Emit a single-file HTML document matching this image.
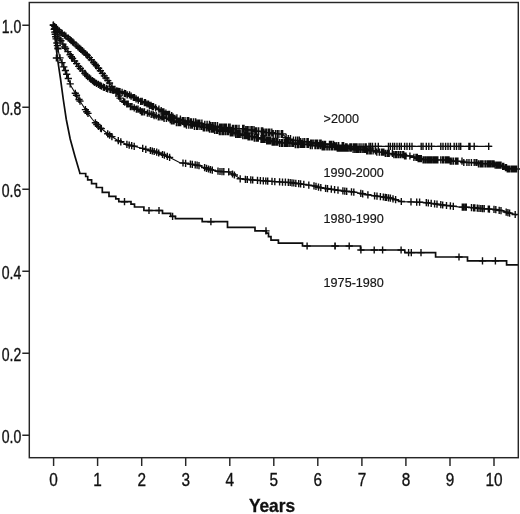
<!DOCTYPE html>
<html lang="en"><head><meta charset="utf-8"><title>Survival by period</title>
<style>html,body{margin:0;padding:0;background:#fff}svg{display:block}</style></head>
<body>
<svg width="520" height="514" viewBox="0 0 520 514">
<rect width="520" height="514" fill="#fff"/>
<path d="M53.6 25.3 L56.0 28.0 L60.0 31.7 L69.2 38.8 L78.9 47.6 L88.6 56.6 L98.5 68.2 L107.0 79.5 L114.5 90.0 L121.0 99.6 L129.6 105.6 L139.7 110.6 L147.0 112.9 L159.0 116.6 L164.2 118.0 L173.0 121.0 L181.5 123.0 L188.4 124.6 L207.8 127.6 L220.0 131.0 L230.0 132.0 L243.3 135.0 L266.7 140.0 L278.4 142.3 L290.0 143.2 L313.4 145.4 L327.0 147.0 L343.3 147.9 L366.7 150.2 L378.4 151.8 L390.0 153.7 L401.7 155.1 L411.7 156.0 L423.3 159.5 L435.0 160.0 L446.7 160.3 L458.4 161.4 L470.0 162.6 L481.7 163.5 L493.4 164.2 L500.4 165.4 L507.4 168.4 L516.7 168.9" fill="none" stroke="#0d0d0d" stroke-width="1.1"/>
<path d="M53.4 21.7v7.2M49.8 25.3h7.2M54.7 22.9v7.2M51.1 26.5h7.2M55.9 24.3v7.2M52.3 27.9h7.2M57.5 25.8v7.2M53.9 29.4h7.2M59.3 27.5v7.2M55.7 31.1h7.2M61.0 28.9v7.2M57.4 32.5h7.2M62.2 29.8v7.2M58.6 33.4h7.2M64.5 31.6v7.2M60.9 35.2h7.2M65.9 32.6v7.2M62.3 36.2h7.2M68.3 34.5v7.2M64.7 38.1h7.2M70.0 35.9v7.2M66.4 39.5h7.2M71.1 37.0v7.2M67.5 40.6h7.2M72.6 38.3v7.2M69.0 41.9h7.2M73.9 39.4v7.2M70.3 43.0h7.2M76.1 41.5v7.2M72.5 45.1h7.2M78.0 43.2v7.2M74.4 46.8h7.2M79.7 44.7v7.2M76.1 48.3h7.2M80.8 45.8v7.2M77.2 49.4h7.2M82.2 47.1v7.2M78.6 50.7h7.2M83.9 48.6v7.2M80.3 52.2h7.2M85.8 50.4v7.2M82.2 54.0h7.2M87.3 51.8v7.2M83.7 55.4h7.2M89.4 54.0v7.2M85.8 57.6h7.2M91.3 56.2v7.2M87.7 59.8h7.2M93.7 58.9v7.2M90.1 62.5h7.2M95.2 60.7v7.2M91.6 64.3h7.2M96.4 62.2v7.2M92.8 65.8h7.2M98.6 64.7v7.2M95.0 68.3h7.2M100.4 67.1v7.2M96.8 70.7h7.2M102.4 69.8v7.2M98.8 73.4h7.2M104.3 72.3v7.2M100.7 75.9h7.2M105.9 74.4v7.2M102.3 78.0h7.2M107.8 77.0v7.2M104.2 80.6h7.2M109.5 79.4v7.2M105.9 83.0h7.2M112.0 82.9v7.2M108.4 86.5h7.2M114.0 85.7v7.2M110.4 89.3h7.2M116.1 88.8v7.2M112.5 92.4h7.2M118.6 92.5v7.2M115.0 96.1h7.2M120.0 94.5v7.2M116.4 98.1h7.2M123.6 97.8v7.2M120.0 101.4h7.2M124.8 98.6v7.2M121.2 102.2h7.2M126.8 100.4v7.2M123.2 104.0h7.2M128.2 100.4v7.2M124.6 104.0h7.2M130.4 103.0v7.2M126.8 106.6h7.2M132.0 103.0v7.2M128.4 106.6h7.2M134.2 104.3v7.2M130.6 107.9h7.2M136.4 105.6v7.2M132.8 109.2h7.2M138.0 105.6v7.2M134.4 109.2h7.2M140.2 106.9v7.2M136.6 110.5h7.2M141.5 108.2v7.2M137.9 111.8h7.2M142.8 108.2v7.2M139.2 111.8h7.2M144.5 108.2v7.2M140.9 111.8h7.2M147.4 109.5v7.2M143.8 113.1h7.2M149.2 109.5v7.2M145.6 113.1h7.2M151.2 110.8v7.2M147.6 114.4h7.2M153.1 110.8v7.2M149.5 114.4h7.2M154.1 112.1v7.2M150.5 115.7h7.2M156.2 112.1v7.2M152.6 115.7h7.2M158.3 113.4v7.2M154.7 117.0h7.2M159.9 113.4v7.2M156.3 117.0h7.2M161.8 113.4v7.2M158.2 117.0h7.2M162.9 113.4v7.2M159.3 117.0h7.2M164.1 114.7v7.2M160.5 118.3h7.2M166.4 114.7v7.2M162.8 118.3h7.2M170.2 116.0v7.2M166.6 119.6h7.2M171.4 117.3v7.2M167.8 120.9h7.2M172.9 117.3v7.2M169.3 120.9h7.2M174.1 117.3v7.2M170.5 120.9h7.2M176.4 118.2v8.0M172.8 122.2h7.2M178.1 118.2v8.0M174.5 122.2h7.2M179.3 118.2v8.0M175.7 122.2h7.2M180.7 118.2v8.0M177.1 122.2h7.2M184.2 119.5v8.0M180.6 123.5h7.2M185.4 119.5v8.0M181.8 123.5h7.2M186.5 120.8v8.0M182.9 124.8h7.2M188.8 120.8v8.0M185.2 124.8h7.2M190.8 120.8v8.0M187.2 124.8h7.2M192.3 120.8v8.0M188.7 124.8h7.2M194.4 122.1v8.0M190.8 126.1h7.2M196.5 122.1v8.0M192.9 126.1h7.2M197.8 122.1v8.0M194.2 126.1h7.2M200.0 122.1v8.0M196.4 126.1h7.2M201.7 122.1v8.0M198.1 126.1h7.2M203.3 123.4v8.0M199.7 127.4h7.2M204.7 123.4v8.0M201.1 127.4h7.2M206.6 123.4v8.0M203.0 127.4h7.2M208.2 123.4v8.0M204.6 127.4h7.2M209.5 124.7v8.0M205.9 128.7h7.2M211.3 124.7v8.0M207.7 128.7h7.2M212.5 124.7v8.0M208.9 128.7h7.2M213.6 124.7v8.0M210.0 128.7h7.2M214.6 126.0v8.0M211.0 130.0h7.2M216.4 126.0v8.0M212.8 130.0h7.2M217.7 126.0v8.0M214.1 130.0h7.2M219.4 127.3v8.0M215.8 131.3h7.2M220.9 127.3v8.0M217.3 131.3h7.2M222.6 127.3v8.0M219.0 131.3h7.2M223.9 127.3v8.0M220.3 131.3h7.2M225.6 127.3v8.0M222.0 131.3h7.2M227.3 127.3v8.0M223.7 131.3h7.2M228.5 127.3v8.0M224.9 131.3h7.2M230.3 128.6v8.0M226.7 132.6h7.2M231.3 128.6v8.0M227.7 132.6h7.2M232.3 128.6v8.0M228.7 132.6h7.2M234.0 128.6v8.0M230.4 132.6h7.2M235.7 129.9v8.0M232.1 133.9h7.2M237.2 129.9v8.0M233.6 133.9h7.2M238.6 129.9v8.0M235.0 133.9h7.2M239.4 129.9v8.0M235.8 133.9h7.2M240.9 129.9v8.0M237.3 133.9h7.2M242.8 131.2v8.0M239.2 135.2h7.2M244.5 131.2v8.0M240.9 135.2h7.2M245.5 131.2v8.0M241.9 135.2h7.2M246.7 131.2v8.0M243.1 135.2h7.2M248.1 132.5v8.0M244.5 136.5h7.2M249.4 132.5v8.0M245.8 136.5h7.2M251.2 132.5v8.0M247.6 136.5h7.2M252.5 132.5v8.0M248.9 136.5h7.2M254.3 133.8v8.0M250.7 137.8h7.2M256.1 133.8v8.0M252.5 137.8h7.2M257.4 133.8v8.0M253.8 137.8h7.2M258.3 133.8v8.0M254.7 137.8h7.2M261.0 135.1v8.0M257.4 139.1h7.2M262.3 135.1v8.0M258.7 139.1h7.2M263.7 135.1v8.0M260.1 139.1h7.2M265.1 135.1v8.0M261.5 139.1h7.2M266.7 136.4v8.0M263.1 140.4h7.2M268.1 136.4v8.0M264.5 140.4h7.2M269.2 136.4v8.0M265.6 140.4h7.2M270.6 136.4v8.0M267.0 140.4h7.2M272.2 137.7v8.0M268.6 141.7h7.2M273.5 137.7v8.0M269.9 141.7h7.2M274.9 137.7v8.0M271.3 141.7h7.2M276.4 137.7v8.0M272.8 141.7h7.2M277.8 137.7v8.0M274.2 141.7h7.2M279.6 139.0v8.0M276.0 143.0h7.2M281.4 139.0v8.0M277.8 143.0h7.2M282.5 139.0v8.0M278.9 143.0h7.2M284.3 139.0v8.0M280.7 143.0h7.2M285.3 139.0v8.0M281.7 143.0h7.2M286.6 139.0v8.0M283.0 143.0h7.2M287.6 139.0v8.0M284.0 143.0h7.2M289.2 139.0v8.0M285.6 143.0h7.2M290.9 139.0v8.0M287.3 143.0h7.2M292.5 139.0v8.0M288.9 143.0h7.2M293.5 139.0v8.0M289.9 143.0h7.2M295.3 140.3v8.0M291.7 144.3h7.2M297.2 140.3v8.0M293.6 144.3h7.2M298.5 140.3v8.0M294.9 144.3h7.2M300.2 140.7v7.2M296.6 144.3h7.2M301.5 140.7v7.2M297.9 144.3h7.2M302.7 140.7v7.2M299.1 144.3h7.2M303.8 140.7v7.2M300.2 144.3h7.2M304.7 140.7v7.2M301.1 144.3h7.2M307.1 140.7v7.2M303.5 144.3h7.2M308.5 140.7v7.2M304.9 144.3h7.2M310.4 142.0v7.2M306.8 145.6h7.2M312.2 142.0v7.2M308.6 145.6h7.2M315.0 142.0v7.2M311.4 145.6h7.2M315.9 142.0v7.2M312.3 145.6h7.2M317.7 142.0v7.2M314.1 145.6h7.2M318.8 142.0v7.2M315.2 145.6h7.2M320.6 142.0v7.2M317.0 145.6h7.2M322.2 143.3v7.2M318.6 146.9h7.2M323.0 143.3v7.2M319.4 146.9h7.2M324.3 143.3v7.2M320.7 146.9h7.2M326.1 143.3v7.2M322.5 146.9h7.2M327.8 143.3v7.2M324.2 146.9h7.2M329.5 143.3v7.2M325.9 146.9h7.2M331.3 143.3v7.2M327.7 146.9h7.2M332.5 143.3v7.2M328.9 146.9h7.2M334.3 143.3v7.2M330.7 146.9h7.2M335.2 143.3v7.2M331.6 146.9h7.2M336.3 143.3v7.2M332.7 146.9h7.2M337.3 144.6v7.2M333.7 148.2h7.2M338.3 144.6v7.2M334.7 148.2h7.2M339.4 144.6v7.2M335.8 148.2h7.2M340.6 144.6v7.2M337.0 148.2h7.2M341.6 144.6v7.2M338.0 148.2h7.2M342.4 144.6v7.2M338.8 148.2h7.2M343.2 144.6v7.2M339.6 148.2h7.2M344.6 144.6v7.2M341.0 148.2h7.2M346.0 144.6v7.2M342.4 148.2h7.2M346.9 144.6v7.2M343.3 148.2h7.2M348.2 144.6v7.2M344.6 148.2h7.2M349.9 144.6v7.2M346.3 148.2h7.2M351.2 144.6v7.2M347.6 148.2h7.2M353.1 145.9v7.2M349.5 149.5h7.2M354.8 145.9v7.2M351.2 149.5h7.2M356.3 145.9v7.2M352.7 149.5h7.2M357.5 145.9v7.2M353.9 149.5h7.2M358.4 145.9v7.2M354.8 149.5h7.2M360.0 145.9v7.2M356.4 149.5h7.2M361.0 145.9v7.2M357.4 149.5h7.2M362.8 145.9v7.2M359.2 149.5h7.2M364.3 145.9v7.2M360.7 149.5h7.2M365.4 145.9v7.2M361.8 149.5h7.2M366.7 147.2v7.2M363.1 150.8h7.2M368.0 147.2v7.2M364.4 150.8h7.2M369.8 147.2v7.2M366.2 150.8h7.2M371.2 147.2v7.2M367.6 150.8h7.2M373.1 147.2v7.2M369.5 150.8h7.2M375.5 147.2v7.2M371.9 150.8h7.2M376.8 148.5v7.2M373.2 152.1h7.2M379.3 148.5v7.2M375.7 152.1h7.2M381.4 148.5v7.2M377.8 152.1h7.2M382.4 148.5v7.2M378.8 152.1h7.2M383.8 148.5v7.2M380.2 152.1h7.2M385.3 149.8v7.2M381.7 153.4h7.2M387.1 149.8v7.2M383.5 153.4h7.2M388.2 149.8v7.2M384.6 153.4h7.2M389.2 149.8v7.2M385.6 153.4h7.2M392.4 149.8v7.2M388.8 153.4h7.2M393.9 151.1v7.2M390.3 154.7h7.2M395.6 151.1v7.2M392.0 154.7h7.2M397.0 151.1v7.2M393.4 154.7h7.2M398.7 151.1v7.2M395.1 154.7h7.2M400.4 151.1v7.2M396.8 154.7h7.2M402.2 151.1v7.2M398.6 154.7h7.2M403.7 151.1v7.2M400.1 154.7h7.2M404.6 152.4v7.2M401.0 156.0h7.2M405.8 152.4v7.2M402.2 156.0h7.2M406.0 152.4v7.2M402.4 156.0h7.2M409.9 152.4v7.2M406.3 156.0h7.2M413.9 153.7v7.2M410.3 157.3h7.2M416.0 153.7v7.2M412.4 157.3h7.2M416.0 153.7v7.2M412.4 157.3h7.2M417.3 153.7v7.2M413.7 157.3h7.2M418.2 155.0v7.2M414.6 158.6h7.2M419.2 155.0v7.2M415.6 158.6h7.2M420.3 155.0v7.2M416.7 158.6h7.2M421.3 155.0v7.2M417.7 158.6h7.2M423.1 156.3v7.2M419.5 159.9h7.2M424.2 156.3v7.2M420.6 159.9h7.2M425.7 156.3v7.2M422.1 159.9h7.2M427.2 156.3v7.2M423.6 159.9h7.2M428.0 156.3v7.2M424.4 159.9h7.2M429.1 156.3v7.2M425.5 159.9h7.2M430.2 156.3v7.2M426.6 159.9h7.2M431.0 156.3v7.2M427.4 159.9h7.2M432.0 156.3v7.2M428.4 159.9h7.2M433.5 156.3v7.2M429.9 159.9h7.2M434.6 156.3v7.2M431.0 159.9h7.2M435.9 156.3v7.2M432.3 159.9h7.2M436.8 156.3v7.2M433.2 159.9h7.2M437.8 156.3v7.2M434.2 159.9h7.2M440.8 156.3v7.2M437.2 159.9h7.2M442.6 156.3v7.2M439.0 159.9h7.2M443.6 156.3v7.2M440.0 159.9h7.2M445.4 156.3v7.2M441.8 159.9h7.2M446.8 156.3v7.2M443.2 159.9h7.2M448.1 156.3v7.2M444.5 159.9h7.2M449.0 156.3v7.2M445.4 159.9h7.2M450.3 157.6v7.2M446.7 161.2h7.2M451.8 157.6v7.2M448.2 161.2h7.2M453.5 157.6v7.2M449.9 161.2h7.2M455.6 157.6v7.2M452.0 161.2h7.2M456.7 157.6v7.2M453.1 161.2h7.2M457.9 157.6v7.2M454.3 161.2h7.2M462.0 157.6v7.2M458.4 161.2h7.2M463.8 158.9v7.2M460.2 162.5h7.2M466.9 158.9v7.2M463.3 162.5h7.2M469.0 158.9v7.2M465.4 162.5h7.2M471.4 158.9v7.2M467.8 162.5h7.2M474.2 158.9v7.2M470.6 162.5h7.2M476.0 158.9v7.2M472.4 162.5h7.2M476.8 158.9v7.2M473.2 162.5h7.2M478.5 160.2v7.2M474.9 163.8h7.2M480.2 160.2v7.2M476.6 163.8h7.2M481.3 160.2v7.2M477.7 163.8h7.2M482.3 160.2v7.2M478.7 163.8h7.2M484.0 160.2v7.2M480.4 163.8h7.2M485.7 160.2v7.2M482.1 163.8h7.2M487.4 160.2v7.2M483.8 163.8h7.2M488.7 160.2v7.2M485.1 163.8h7.2M489.6 160.2v7.2M486.0 163.8h7.2M490.8 160.2v7.2M487.2 163.8h7.2M492.3 160.2v7.2M488.7 163.8h7.2M493.1 160.2v7.2M489.5 163.8h7.2M494.0 160.2v7.2M490.4 163.8h7.2M495.2 161.5v7.2M491.6 165.1h7.2M496.7 161.5v7.2M493.1 165.1h7.2M497.8 161.5v7.2M494.2 165.1h7.2M498.8 161.5v7.2M495.2 165.1h7.2M500.0 161.5v7.2M496.4 165.1h7.2M501.0 161.5v7.2M497.4 165.1h7.2M502.7 162.8v7.2M499.1 166.4h7.2M503.7 162.8v7.2M500.1 166.4h7.2M505.5 164.1v7.2M501.9 167.7h7.2M506.5 164.1v7.2M502.9 167.7h7.2M507.3 165.4v7.2M503.7 169.0h7.2M508.2 165.4v7.2M504.6 169.0h7.2M509.3 165.4v7.2M505.7 169.0h7.2M511.0 165.4v7.2M507.4 169.0h7.2M512.2 165.4v7.2M508.6 169.0h7.2M513.5 165.4v7.2M509.9 169.0h7.2M514.6 165.4v7.2M511.0 169.0h7.2M515.7 165.4v7.2M512.1 169.0h7.2M516.6 165.4v7.2M513.0 169.0h7.2" fill="none" stroke="#0d0d0d" stroke-width="1.4"/>
<path d="M53.4 25.0 L55.0 29.5 L59.0 37.5 L64.5 46.8 L72.0 57.5 L79.5 67.5 L87.5 76.5 L94.0 81.8 L101.0 86.0 L107.7 89.0 L114.5 90.5 L121.3 92.0 L129.6 95.4 L139.7 100.3 L148.0 104.2 L166.0 113.0 L173.0 117.0 L181.5 120.3 L188.4 121.3 L207.8 125.0 L220.0 127.2 L243.3 129.0 L266.7 132.5 L283.0 134.5 L287.7 139.0 L300.0 141.0 L313.4 142.8 L327.0 144.2 L340.0 145.6 L346.0 146.4 L491.8 146.4" fill="none" stroke="#0d0d0d" stroke-width="1.1"/>
<path d="M53.4 21.4v7.2M49.8 25.0h7.2M54.7 25.1v7.2M51.1 28.7h7.2M56.1 28.0v7.2M52.5 31.6h7.2M57.7 31.3v7.2M54.1 34.9h7.2M59.9 35.4v7.2M56.3 39.0h7.2M60.9 37.1v7.2M57.3 40.7h7.2M62.9 40.5v7.2M59.3 44.1h7.2M64.6 43.3v7.2M61.0 46.9h7.2M65.6 44.8v7.2M62.0 48.4h7.2M67.9 48.0v7.2M64.3 51.6h7.2M70.1 51.1v7.2M66.5 54.7h7.2M71.4 53.1v7.2M67.8 56.7h7.2M72.6 54.8v7.2M69.0 58.4h7.2M74.6 57.4v7.2M71.0 61.0h7.2M76.6 60.0v7.2M73.0 63.6h7.2M78.7 62.8v7.2M75.1 66.4h7.2M80.4 64.9v7.2M76.8 68.5h7.2M82.5 67.3v7.2M78.9 70.9h7.2M84.8 69.8v7.2M81.2 73.4h7.2M86.2 71.4v7.2M82.6 75.0h7.2M87.6 73.0v7.2M84.0 76.6h7.2M89.5 74.6v7.2M85.9 78.2h7.2M90.7 75.5v7.2M87.1 79.1h7.2M92.5 77.0v7.2M88.9 80.6h7.2M93.8 78.0v7.2M90.2 81.6h7.2M94.8 78.7v7.2M91.2 82.3h7.2M96.5 79.7v7.2M92.9 83.3h7.2M98.4 80.8v7.2M94.8 84.4h7.2M100.0 81.8v7.2M96.4 85.4h7.2M101.4 82.6v7.2M97.8 86.2h7.2M103.4 83.5v7.2M99.8 87.1h7.2M104.4 83.9v7.2M100.8 87.5h7.2M106.4 84.8v7.2M102.8 88.4h7.2M107.7 85.4v7.2M104.1 89.0h7.2M110.0 85.9v7.2M106.4 89.5h7.2M111.1 86.1v7.2M107.5 89.7h7.2M112.7 86.5v7.2M109.1 90.1h7.2M114.0 86.8v7.2M110.4 90.4h7.2M116.0 87.2v7.2M112.4 90.8h7.2M117.3 87.5v7.2M113.7 91.1h7.2M118.7 87.8v7.2M115.1 91.4h7.2M120.0 88.1v7.2M116.4 91.7h7.2M122.1 88.7v7.2M118.5 92.3h7.2M124.4 89.7v7.2M120.8 93.3h7.2M125.6 90.0v7.2M122.0 93.6h7.2M127.2 91.3v7.2M123.6 94.9h7.2M129.5 91.3v7.2M125.9 94.9h7.2M131.1 92.6v7.2M127.5 96.2h7.2M133.4 93.9v7.2M129.8 97.5h7.2M134.5 93.9v7.2M130.9 97.5h7.2M136.1 95.2v7.2M132.5 98.8h7.2M138.3 96.5v7.2M134.7 100.1h7.2M140.7 97.8v7.2M137.1 101.4h7.2M142.2 97.8v7.2M138.6 101.4h7.2M144.4 99.1v7.2M140.8 102.7h7.2M145.5 99.1v7.2M141.9 102.7h7.2M147.0 100.4v7.2M143.4 104.0h7.2M148.5 100.4v7.2M144.9 104.0h7.2M149.5 101.7v7.2M145.9 105.3h7.2M151.0 101.7v7.2M147.4 105.3h7.2M152.2 103.0v7.2M148.6 106.6h7.2M153.5 103.0v7.2M149.9 106.6h7.2M155.7 104.3v7.2M152.1 107.9h7.2M158.9 105.6v7.2M155.3 109.2h7.2M161.2 106.9v7.2M157.6 110.5h7.2M162.7 108.2v7.2M159.1 111.8h7.2M163.8 108.2v7.2M160.2 111.8h7.2M165.9 109.5v7.2M162.3 113.1h7.2M168.1 110.8v7.2M164.5 114.4h7.2M169.5 110.8v7.2M165.9 114.4h7.2M171.7 112.1v7.2M168.1 115.7h7.2M173.1 113.4v7.2M169.5 117.0h7.2M174.9 114.7v7.2M171.3 118.3h7.2M176.9 114.3v8.0M173.3 118.3h7.2M180.4 115.6v8.0M176.8 119.6h7.2M182.3 116.9v8.0M178.7 120.9h7.2M183.3 116.9v8.0M179.7 120.9h7.2M185.0 116.9v8.0M181.4 120.9h7.2M187.3 116.9v8.0M183.7 120.9h7.2M188.7 116.9v8.0M185.1 120.9h7.2M190.4 118.2v8.0M186.8 122.2h7.2M191.6 118.2v8.0M188.0 122.2h7.2M193.7 118.2v8.0M190.1 122.2h7.2M195.7 118.2v8.0M192.1 122.2h7.2M197.2 119.5v8.0M193.6 123.5h7.2M198.7 119.5v8.0M195.1 123.5h7.2M199.8 119.5v8.0M196.2 123.5h7.2M201.9 119.5v8.0M198.3 123.5h7.2M204.8 120.8v8.0M201.2 124.8h7.2M207.1 120.8v8.0M203.5 124.8h7.2M209.5 120.8v8.0M205.9 124.8h7.2M210.6 122.1v8.0M207.0 126.1h7.2M212.3 122.1v8.0M208.7 126.1h7.2M213.9 122.1v8.0M210.3 126.1h7.2M215.5 122.1v8.0M211.9 126.1h7.2M217.5 122.1v8.0M213.9 126.1h7.2M219.6 123.4v8.0M216.0 127.4h7.2M220.8 123.4v8.0M217.2 127.4h7.2M222.2 123.4v8.0M218.6 127.4h7.2M223.8 123.4v8.0M220.2 127.4h7.2M225.0 123.4v8.0M221.4 127.4h7.2M226.4 123.4v8.0M222.8 127.4h7.2M228.6 123.4v8.0M225.0 127.4h7.2M230.1 123.4v8.0M226.5 127.4h7.2M232.5 124.7v8.0M228.9 128.7h7.2M233.8 124.7v8.0M230.2 128.7h7.2M235.7 124.7v8.0M232.1 128.7h7.2M236.9 124.7v8.0M233.3 128.7h7.2M239.0 124.7v8.0M235.4 128.7h7.2M242.7 124.7v8.0M239.1 128.7h7.2M244.0 124.7v8.0M240.4 128.7h7.2M245.8 126.0v8.0M242.2 130.0h7.2M247.3 126.0v8.0M243.7 130.0h7.2M248.9 126.0v8.0M245.3 130.0h7.2M251.0 126.0v8.0M247.4 130.0h7.2M252.2 126.0v8.0M248.6 130.0h7.2M254.0 126.0v8.0M250.4 130.0h7.2M255.5 127.3v8.0M251.9 131.3h7.2M256.8 127.3v8.0M253.2 131.3h7.2M258.7 127.3v8.0M255.1 131.3h7.2M261.4 127.3v8.0M257.8 131.3h7.2M262.7 127.3v8.0M259.1 131.3h7.2M264.0 128.6v8.0M260.4 132.6h7.2M265.8 128.6v8.0M262.2 132.6h7.2M266.9 128.6v8.0M263.3 132.6h7.2M268.7 128.6v8.0M265.1 132.6h7.2M269.8 128.6v8.0M266.2 132.6h7.2M271.8 128.6v8.0M268.2 132.6h7.2M273.2 129.9v8.0M269.6 133.9h7.2M275.5 129.9v8.0M271.9 133.9h7.2M277.3 129.9v8.0M273.7 133.9h7.2M278.9 129.9v8.0M275.3 133.9h7.2M281.3 129.9v8.0M277.7 133.9h7.2M282.6 129.9v8.0M279.0 133.9h7.2M286.1 133.8v8.0M282.5 137.8h7.2M288.3 135.1v8.0M284.7 139.1h7.2M290.5 135.1v8.0M286.9 139.1h7.2M293.5 136.4v8.0M289.9 140.4h7.2M295.7 136.4v8.0M292.1 140.4h7.2M297.6 136.4v8.0M294.0 140.4h7.2M299.3 136.4v8.0M295.7 140.4h7.2M300.7 138.1v7.2M297.1 141.7h7.2M303.0 138.1v7.2M299.4 141.7h7.2M304.7 138.1v7.2M301.1 141.7h7.2M307.0 138.1v7.2M303.4 141.7h7.2M308.2 138.1v7.2M304.6 141.7h7.2M310.6 139.4v7.2M307.0 143.0h7.2M311.7 139.4v7.2M308.1 143.0h7.2M313.2 139.4v7.2M309.6 143.0h7.2M315.1 139.4v7.2M311.5 143.0h7.2M316.3 139.4v7.2M312.7 143.0h7.2M317.6 139.4v7.2M314.0 143.0h7.2M319.8 139.4v7.2M316.2 143.0h7.2M321.1 139.4v7.2M317.5 143.0h7.2M322.6 140.7v7.2M319.0 144.3h7.2M324.2 140.7v7.2M320.6 144.3h7.2M325.5 140.7v7.2M321.9 144.3h7.2M329.5 140.7v7.2M325.9 144.3h7.2M330.6 140.7v7.2M327.0 144.3h7.2M331.8 140.7v7.2M328.2 144.3h7.2M333.6 140.7v7.2M330.0 144.3h7.2M335.0 142.0v7.2M331.4 145.6h7.2M336.8 142.0v7.2M333.2 145.6h7.2M338.7 142.0v7.2M335.1 145.6h7.2M342.2 142.0v7.2M338.6 145.6h7.2M343.6 142.0v7.2M340.0 145.6h7.2M345.6 143.3v7.2M342.0 146.9h7.2M346.0 143.3v7.2M342.4 146.9h7.2M347.0 143.3v7.2M343.4 146.9h7.2M349.9 143.3v7.2M346.3 146.9h7.2M350.8 143.3v7.2M347.2 146.9h7.2M351.8 143.3v7.2M348.2 146.9h7.2M353.7 143.3v7.2M350.1 146.9h7.2M354.6 143.3v7.2M351.0 146.9h7.2M356.0 143.3v7.2M352.4 146.9h7.2M357.0 143.3v7.2M353.4 146.9h7.2M359.1 143.3v7.2M355.5 146.9h7.2M361.0 143.3v7.2M357.4 146.9h7.2M363.1 143.3v7.2M359.5 146.9h7.2M365.1 143.3v7.2M361.5 146.9h7.2M366.2 143.3v7.2M362.6 146.9h7.2M369.0 142.8v7.2M365.4 146.4h7.2M370.6 142.8v7.2M367.0 146.4h7.2M372.5 142.8v7.2M368.9 146.4h7.2M375.4 142.8v7.2M371.8 146.4h7.2M378.3 142.8v7.2M374.7 146.4h7.2M388.5 142.8v7.2M384.9 146.4h7.2M390.4 142.8v7.2M386.8 146.4h7.2M392.7 142.8v7.2M389.1 146.4h7.2M394.6 142.8v7.2M391.0 146.4h7.2M397.0 142.8v7.2M393.4 146.4h7.2M399.4 142.8v7.2M395.8 146.4h7.2M401.3 142.8v7.2M397.7 146.4h7.2M404.6 142.8v7.2M401.0 146.4h7.2M407.0 142.8v7.2M403.4 146.4h7.2M409.6 142.8v7.2M406.0 146.4h7.2M412.0 142.8v7.2M408.4 146.4h7.2M421.2 142.8v7.2M417.6 146.4h7.2M423.0 142.8v7.2M419.4 146.4h7.2M426.3 142.8v7.2M422.7 146.4h7.2M428.8 142.8v7.2M425.2 146.4h7.2M431.5 142.8v7.2M427.9 146.4h7.2M440.8 142.8v7.2M437.2 146.4h7.2M443.0 142.8v7.2M439.4 146.4h7.2M445.6 142.8v7.2M442.0 146.4h7.2M448.0 142.8v7.2M444.4 146.4h7.2M450.4 142.8v7.2M446.8 146.4h7.2M454.2 142.8v7.2M450.6 146.4h7.2M456.5 142.8v7.2M452.9 146.4h7.2M459.0 142.8v7.2M455.4 146.4h7.2M460.7 142.8v7.2M457.1 146.4h7.2M468.9 142.8v7.2M465.3 146.4h7.2M470.0 142.8v7.2M466.4 146.4h7.2M474.2 142.8v7.2M470.6 146.4h7.2M488.7 142.8v7.2M485.1 146.4h7.2" fill="none" stroke="#0d0d0d" stroke-width="1.4"/>
<path d="M53.4 25.0 L54.5 31.0 L56.5 41.0 L59.5 56.7 L65.3 70.3 L71.0 86.0 L79.0 99.5 L83.8 107.0 L86.7 111.7 L92.5 119.5 L98.4 126.3 L108.0 134.0 L117.8 140.5 L127.5 144.7 L140.0 147.7 L156.7 152.2 L168.4 156.8 L180.0 162.7 L184.7 163.2 L198.7 165.5 L210.4 169.7 L219.7 171.5 L228.7 171.9 L234.4 175.0 L240.2 178.8 L250.8 179.8 L262.0 180.7 L275.0 181.6 L290.0 182.5 L313.4 185.7 L320.0 187.6 L343.3 191.0 L355.0 192.2 L366.7 194.6 L390.0 198.0 L401.7 201.6 L423.3 202.3 L435.0 203.9 L446.7 205.5 L458.4 206.9 L470.0 207.4 L481.7 208.6 L493.4 209.3 L502.7 210.9 L509.7 213.2 L516.7 214.9" fill="none" stroke="#0d0d0d" stroke-width="1.1"/>
<path d="M54.2 25.8v7.2M50.6 29.4h7.2M54.7 28.5v7.2M51.1 32.1h7.2M55.2 30.7v7.2M51.6 34.3h7.2M55.7 33.2v7.2M52.1 36.8h7.2M56.1 35.3v7.2M52.5 38.9h7.2M56.9 39.4v7.2M53.3 43.0h7.2M57.4 42.0v7.2M53.8 45.6h7.2M57.9 44.7v7.2M54.3 48.3h7.2M58.0 45.2v7.2M54.4 48.9h7.2M60.0 54.3v7.2M56.4 57.9h7.2M62.0 59.0v7.2M58.4 62.6h7.2M63.8 63.3v7.2M60.2 66.9h7.2M65.4 66.9v7.2M61.8 70.5h7.2M66.7 70.6v7.2M63.1 74.2h7.2M68.3 74.9v7.2M64.7 78.5h7.2M70.2 80.3v7.2M66.6 83.9h7.2M75.3 89.7v7.2M71.7 93.3h7.2M76.5 91.7v7.2M72.9 95.3h7.2M79.0 95.9v7.2M75.4 99.5h7.2M80.0 97.5v7.2M76.4 101.1h7.2M85.4 106.0v7.2M81.8 109.6h7.2M86.7 108.1v7.2M83.1 111.7h7.2M88.0 109.8v7.2M84.4 113.4h7.2M95.4 119.2v7.2M91.8 122.8h7.2M96.8 120.9v7.2M93.2 124.5h7.2M98.5 122.8v7.2M94.9 126.4h7.2M100.6 124.5v7.2M97.0 128.1h7.2M101.3 125.0v7.2M97.7 128.6h7.2M107.7 130.2v7.2M104.1 133.8h7.2M109.6 131.5v7.2M106.0 135.1h7.2M111.9 133.0v7.2M108.3 136.6h7.2M118.3 137.1v7.2M114.7 140.7h7.2M120.8 138.2v7.2M117.2 141.8h7.2M126.9 140.8v7.2M123.3 144.4h7.2M129.2 141.5v7.2M125.6 145.1h7.2M131.7 142.1v7.2M128.1 145.7h7.2M134.2 142.7v7.2M130.6 146.3h7.2M142.7 144.8v7.2M139.1 148.4h7.2M145.8 145.7v7.2M142.2 149.3h7.2M150.4 146.9v7.2M146.8 150.5h7.2M152.3 147.4v7.2M148.7 151.0h7.2M154.2 147.9v7.2M150.6 151.5h7.2M156.7 148.6v7.2M153.1 152.2h7.2M158.7 149.4v7.2M155.1 153.0h7.2M162.5 150.9v7.2M158.9 154.5h7.2M164.4 151.6v7.2M160.8 155.2h7.2M167.3 152.8v7.2M163.7 156.4h7.2M169.6 153.8v7.2M166.0 157.4h7.2M183.0 159.4v7.2M179.4 163.0h7.2M185.6 159.7v7.2M182.0 163.3h7.2M190.4 160.5v7.2M186.8 164.1h7.2M192.3 160.8v7.2M188.7 164.4h7.2M195.2 161.3v7.2M191.6 164.9h7.2M197.1 161.6v7.2M193.5 165.2h7.2M199.0 162.0v7.2M195.4 165.6h7.2M204.6 164.0v7.2M201.0 167.6h7.2M206.5 164.7v7.2M202.9 168.3h7.2M208.5 165.4v7.2M204.9 169.0h7.2M210.4 166.1v7.2M206.8 169.7h7.2M212.3 166.5v7.2M208.7 170.1h7.2M218.0 167.6v7.2M214.4 171.2h7.2M220.0 167.9v7.2M216.4 171.5h7.2M222.0 168.0v7.2M218.4 171.6h7.2M223.8 168.1v7.2M220.2 171.7h7.2M228.7 168.3v7.2M225.1 171.9h7.2M232.5 170.4v7.2M228.9 174.0h7.2M234.4 171.4v7.2M230.8 175.0h7.2M240.2 175.2v7.2M236.6 178.8h7.2M245.4 175.7v7.2M241.8 179.3h7.2M247.3 175.9v7.2M243.7 179.5h7.2M250.8 176.2v7.2M247.2 179.8h7.2M252.7 176.4v7.2M249.1 180.0h7.2M257.5 176.7v7.2M253.9 180.3h7.2M260.4 177.0v7.2M256.8 180.6h7.2M263.3 177.2v7.2M259.7 180.8h7.2M265.8 177.4v7.2M262.2 181.0h7.2M267.7 177.5v7.2M264.1 181.1h7.2M272.0 177.8v7.2M268.4 181.4h7.2M274.8 178.0v7.2M271.2 181.6h7.2M279.6 178.3v7.2M276.0 181.9h7.2M282.5 178.5v7.2M278.9 182.1h7.2M285.4 178.6v7.2M281.8 182.2h7.2M288.3 178.8v7.2M284.7 182.4h7.2M290.2 178.9v7.2M286.6 182.5h7.2M292.0 179.2v7.2M288.4 182.8h7.2M293.8 179.4v7.2M290.2 183.0h7.2M295.8 179.7v7.2M292.2 183.3h7.2M298.7 180.1v7.2M295.1 183.7h7.2M300.6 180.3v7.2M297.0 183.9h7.2M303.8 180.8v7.2M300.2 184.4h7.2M308.8 181.5v7.2M305.2 185.1h7.2M314.0 182.3v7.2M310.4 185.9h7.2M316.0 182.8v7.2M312.4 186.4h7.2M318.5 183.6v7.2M314.9 187.2h7.2M320.8 184.1v7.2M317.2 187.7h7.2M325.6 184.8v7.2M322.0 188.4h7.2M327.5 185.1v7.2M323.9 188.7h7.2M331.3 185.6v7.2M327.7 189.2h7.2M334.6 186.1v7.2M331.0 189.7h7.2M338.0 186.6v7.2M334.4 190.2h7.2M342.9 187.3v7.2M339.3 190.9h7.2M344.8 187.6v7.2M341.2 191.2h7.2M346.7 187.7v7.2M343.1 191.3h7.2M351.5 188.2v7.2M347.9 191.8h7.2M353.8 188.5v7.2M350.2 192.1h7.2M360.8 189.8v7.2M357.2 193.4h7.2M362.7 190.2v7.2M359.1 193.8h7.2M367.9 191.2v7.2M364.3 194.8h7.2M374.6 192.2v7.2M371.0 195.8h7.2M377.0 192.5v7.2M373.4 196.1h7.2M380.4 193.0v7.2M376.8 196.6h7.2M383.3 193.4v7.2M379.7 197.0h7.2M385.2 193.7v7.2M381.6 197.3h7.2M386.5 193.9v7.2M382.9 197.5h7.2M388.5 194.2v7.2M384.9 197.8h7.2M390.4 194.5v7.2M386.8 198.1h7.2M393.0 195.3v7.2M389.4 198.9h7.2M395.6 196.1v7.2M392.0 199.7h7.2M401.3 197.9v7.2M397.7 201.5h7.2M411.0 198.3v7.2M407.4 201.9h7.2M416.7 198.5v7.2M413.1 202.1h7.2M419.6 198.6v7.2M416.0 202.2h7.2M426.3 199.1v7.2M422.7 202.7h7.2M428.3 199.4v7.2M424.7 203.0h7.2M431.2 199.8v7.2M427.6 203.4h7.2M434.6 200.2v7.2M431.0 203.8h7.2M437.0 200.6v7.2M433.4 204.2h7.2M440.8 201.1v7.2M437.2 204.7h7.2M442.7 201.4v7.2M439.1 205.0h7.2M446.5 201.9v7.2M442.9 205.5h7.2M450.4 202.3v7.2M446.8 205.9h7.2M453.3 202.7v7.2M449.7 206.3h7.2M462.3 203.5v7.2M458.7 207.1h7.2M463.7 203.5v7.2M460.1 207.1h7.2M465.2 203.6v7.2M461.6 207.2h7.2M466.3 203.6v7.2M462.7 207.2h7.2M471.5 204.0v7.2M467.9 207.6h7.2M473.6 204.2v7.2M470.0 207.8h7.2M474.8 204.3v7.2M471.2 207.9h7.2M477.3 204.5v7.2M473.7 208.1h7.2M479.0 204.7v7.2M475.4 208.3h7.2M480.8 204.9v7.2M477.2 208.5h7.2M482.5 205.0v7.2M478.9 208.6h7.2M484.2 205.1v7.2M480.6 208.7h7.2M488.3 205.4v7.2M484.7 209.0h7.2M489.4 205.5v7.2M485.8 209.1h7.2M494.0 205.8v7.2M490.4 209.4h7.2M495.8 206.1v7.2M492.2 209.7h7.2M499.2 206.7v7.2M495.6 210.3h7.2M501.0 207.0v7.2M497.4 210.6h7.2M506.2 208.5v7.2M502.6 212.1h7.2M507.9 209.0v7.2M504.3 212.6h7.2M509.6 209.6v7.2M506.0 213.2h7.2M515.2 210.9v7.2M511.6 214.5h7.2" fill="none" stroke="#0d0d0d" stroke-width="1.4"/>
<path d="M53.4 25.0 L54.6 35.0 L57.5 58.6 L60.4 78.0 L63.3 99.5 L66.3 119.5 L70.2 139.0 L75.0 156.4 L79.9 173.0 L79.9 173.0 L79.9 173.5 L85.7 173.5 L85.7 176.5 L87.7 176.5 L87.7 179.8 L91.6 179.8 L91.6 183.7 L96.4 183.7 L96.4 187.5 L102.3 187.5 L102.3 192.4 L109.0 192.4 L109.0 196.4 L115.8 196.4 L115.8 198.9 L118.8 198.9 L118.8 201.7 L131.0 201.7 L131.0 204.2 L134.5 204.2 L134.5 207.0 L143.9 207.0 L143.9 210.5 L162.5 210.5 L162.5 213.4 L170.7 213.4 L170.7 216.4 L175.4 216.4 L175.4 218.7 L202.2 218.7 L202.2 221.7 L227.5 221.7 L227.5 227.4 L255.0 227.4 L255.0 230.9 L266.2 230.9 L266.2 233.2 L268.5 233.2 L268.5 236.7 L271.0 236.7 L271.0 240.2 L278.4 240.2 L278.4 243.2 L302.5 243.2 L302.5 246.0 L360.5 246.0 L360.5 250.0 L404.8 250.0 L404.8 252.6 L435.6 252.6 L435.6 257.0 L467.5 257.0 L467.5 260.8 L506.6 260.8 L506.6 264.8 L518.3 264.8" fill="none" stroke="#0d0d0d" stroke-width="1.7" stroke-linejoin="miter"/>
<path d="M56.4 54.4v7.2M52.8 58.0h7.2M124.5 198.1v7.2M120.9 201.7h7.2M149.0 206.9v7.2M145.4 210.5h7.2M159.0 206.9v7.2M155.4 210.5h7.2M172.6 212.8v7.2M169.0 216.4h7.2M210.9 218.1v7.2M207.3 221.7h7.2M266.0 227.3v7.2M262.4 230.9h7.2M307.1 242.4v7.2M303.5 246.0h7.2M334.9 242.4v7.2M331.3 246.0h7.2M335.2 242.4v7.2M331.6 246.0h7.2M349.2 242.4v7.2M345.6 246.0h7.2M360.9 246.4v7.2M357.3 250.0h7.2M374.2 246.4v7.2M370.6 250.0h7.2M382.6 246.4v7.2M379.0 250.0h7.2M401.1 246.4v7.2M397.5 250.0h7.2M408.6 249.0v7.2M405.0 252.6h7.2M411.3 249.0v7.2M407.7 252.6h7.2M421.0 249.0v7.2M417.4 252.6h7.2M459.0 253.4v7.2M455.4 257.0h7.2M482.5 257.2v7.2M478.9 260.8h7.2M495.4 257.2v7.2M491.8 260.8h7.2" fill="none" stroke="#0d0d0d" stroke-width="1.4"/>
<rect x="29.3" y="2.5" width="489.0" height="455.2" fill="none" stroke="#262626" stroke-width="1.45"/>
<path d="M53.6 457.7v8.4M97.6 457.7v8.4M141.7 457.7v8.4M185.7 457.7v8.4M229.8 457.7v8.4M273.8 457.7v8.4M317.8 457.7v8.4M361.9 457.7v8.4M405.9 457.7v8.4M450.0 457.7v8.4M494.0 457.7v8.4M29.3 25.2h-7M29.3 107.2h-7M29.3 189.2h-7M29.3 271.2h-7M29.3 353.2h-7M29.3 435.2h-7" stroke="#262626" stroke-width="1.45" fill="none"/>
<g font-family="&quot;Liberation Sans&quot;, sans-serif" font-size="17.8" fill="#111" stroke="#111" stroke-width="0.35">
<text transform="translate(53.6 485.6) scale(0.80 1)" text-anchor="middle" font-size="19.2">0</text>
<text transform="translate(97.6 485.6) scale(0.80 1)" text-anchor="middle" font-size="19.2">1</text>
<text transform="translate(141.7 485.6) scale(0.80 1)" text-anchor="middle" font-size="19.2">2</text>
<text transform="translate(185.7 485.6) scale(0.80 1)" text-anchor="middle" font-size="19.2">3</text>
<text transform="translate(229.8 485.6) scale(0.80 1)" text-anchor="middle" font-size="19.2">4</text>
<text transform="translate(273.8 485.6) scale(0.80 1)" text-anchor="middle" font-size="19.2">5</text>
<text transform="translate(317.8 485.6) scale(0.80 1)" text-anchor="middle" font-size="19.2">6</text>
<text transform="translate(361.9 485.6) scale(0.80 1)" text-anchor="middle" font-size="19.2">7</text>
<text transform="translate(405.9 485.6) scale(0.80 1)" text-anchor="middle" font-size="19.2">8</text>
<text transform="translate(450.0 485.6) scale(0.80 1)" text-anchor="middle" font-size="19.2">9</text>
<text transform="translate(494.0 485.6) scale(0.80 1)" text-anchor="middle" font-size="19.2">10</text>
<text transform="translate(21.3 32.9) scale(0.79 1)" text-anchor="end">1.0</text>
<text transform="translate(21.3 114.9) scale(0.79 1)" text-anchor="end">0.8</text>
<text transform="translate(21.3 196.9) scale(0.79 1)" text-anchor="end">0.6</text>
<text transform="translate(21.3 278.9) scale(0.79 1)" text-anchor="end">0.4</text>
<text transform="translate(21.3 360.9) scale(0.79 1)" text-anchor="end">0.2</text>
<text transform="translate(21.3 442.9) scale(0.79 1)" text-anchor="end">0.0</text>
</g>
<text transform="translate(272 512.1) scale(0.99 1)" text-anchor="middle" font-family="&quot;Liberation Sans&quot;, sans-serif" font-weight="bold" font-size="17.5" fill="#111" stroke="#111" stroke-width="0.3">Years</text>
<g font-family="&quot;Liberation Sans&quot;, sans-serif" font-size="13.6" fill="#161616" stroke="#161616" stroke-width="0.2">
<text transform="translate(323.6 123.3) scale(0.927 1)">&gt;2000</text>
<text transform="translate(323.6 176.9) scale(0.927 1)">1990-2000</text>
<text transform="translate(323.6 223.2) scale(0.927 1)">1980-1990</text>
<text transform="translate(323.6 286.9) scale(0.927 1)">1975-1980</text>
</g>
</svg>
</body></html>
